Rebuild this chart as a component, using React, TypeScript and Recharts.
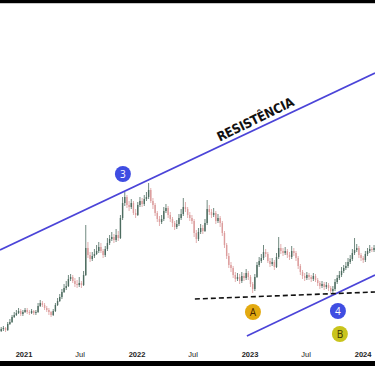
import { ComposedChart, Bar, XAxis, YAxis, ReferenceLine, ReferenceDot } from 'recharts';

// weekly candles, first one is the week of 2020-10-19
const startDate = '2020-10-19';
const firstOpen = 3.0;

const closes = [
  3.2, 3.3, 3.1, 3.7, 3.9, 4.4, 4.6, 4.8, 5.0, 4.7, 4.9, 5.1, 4.9, 4.8, 5.0, 4.8, 4.9, 5.5, 5.8, 5.6,
  5.3, 5.1, 4.9, 4.6, 5.0, 5.6, 6.0, 6.4, 6.9, 7.3, 7.5, 8.2, 8.4, 8.0, 7.7, 7.6, 7.8, 7.6, 8.6, 11.3,
  10.6, 10.2, 10.5, 10.7, 11.0, 11.4, 11.0, 10.6, 11.2, 11.8, 12.2, 12.4, 12.1, 12.6, 12.3, 14.3, 15.8, 16.4, 15.6, 15.4,
  15.8, 14.8, 14.6, 15.6, 16.0, 15.7, 16.2, 16.4, 17.1, 16.0, 15.6, 14.8, 14.2, 13.9, 14.2, 15.0, 15.3, 14.6, 14.2, 13.8,
  13.4, 13.7, 14.3, 14.7, 15.4, 15.2, 14.6, 14.3, 14.0, 12.8, 12.2, 12.9, 13.3, 13.0, 13.8, 15.2, 14.9, 14.6, 14.8, 14.0,
  14.3, 13.8, 12.8, 11.6, 10.5, 9.6, 9.3, 8.6, 8.2, 8.4, 8.0, 8.5, 8.3, 8.8, 8.4, 7.7, 7.2, 8.4, 9.6, 10.0,
  10.3, 10.9, 10.7, 10.0, 9.7, 9.9, 9.4, 10.4, 11.3, 11.0, 10.8, 11.0, 10.6, 10.4, 11.0, 10.8, 10.3, 9.5, 8.9, 8.5,
  8.3, 8.6, 8.4, 8.2, 8.5, 8.1, 7.8, 7.5, 7.7, 7.4, 7.6, 7.3, 7.0, 7.2, 7.9, 8.3, 8.6, 9.0, 9.3, 9.5,
  9.9, 10.2, 10.8, 11.1, 11.3, 10.6, 10.3, 10.1, 10.7, 11.0, 11.2, 11.1, 11.3,
];

const highs = [
  3.4, 3.5, 3.4, 3.9, 4.2, 4.6, 4.9, 5.1, 5.3, 5.2, 5.1, 5.3, 5.3, 5.1, 5.2, 5.1, 5.1, 5.8, 6.1, 6.0,
  5.8, 5.5, 5.3, 5.0, 5.2, 5.8, 6.3, 6.7, 7.2, 7.7, 8.0, 8.6, 8.7, 8.6, 8.3, 8.1, 8.4, 8.0, 9.0, 13.6,
  11.9, 10.9, 10.9, 11.2, 11.6, 11.9, 11.8, 11.2, 11.5, 12.3, 12.6, 12.9, 12.7, 13.2, 13.0, 14.6, 16.4, 16.9, 16.6, 16.0,
  16.2, 16.0, 15.2, 15.9, 16.4, 16.3, 16.6, 16.9, 17.8, 17.3, 16.3, 15.8, 15.0, 14.5, 14.6, 15.4, 15.7, 15.5, 14.9, 14.4,
  14.0, 14.1, 14.7, 15.2, 16.3, 15.9, 15.4, 14.9, 14.6, 14.2, 13.1, 13.3, 13.7, 13.6, 14.2, 16.1, 15.6, 15.2, 15.3, 15.0,
  14.7, 14.5, 14.0, 13.0, 11.8, 10.8, 9.9, 9.5, 8.9, 8.8, 8.7, 8.9, 8.8, 9.2, 9.0, 8.6, 7.9, 8.7, 9.9, 10.4,
  10.7, 11.6, 11.2, 10.9, 10.3, 10.3, 10.1, 10.8, 12.4, 11.7, 11.3, 11.4, 11.2, 10.9, 11.5, 11.3, 11.0, 10.5, 9.7, 9.1,
  8.8, 8.9, 8.8, 8.6, 8.8, 8.7, 8.3, 8.0, 8.0, 7.9, 7.9, 7.8, 7.5, 7.5, 8.2, 8.6, 9.0, 9.4, 9.6, 9.9,
  10.3, 10.6, 11.2, 12.3, 11.7, 11.5, 10.8, 10.5, 11.0, 11.3, 11.6, 11.4, 11.6,
];

const lows = [
  2.9, 3.0, 2.9, 3.0, 3.6, 3.8, 4.3, 4.5, 4.7, 4.5, 4.5, 4.8, 4.7, 4.6, 4.7, 4.6, 4.6, 4.8, 5.4, 5.4,
  5.1, 4.9, 4.6, 4.4, 4.5, 4.9, 5.5, 5.9, 6.2, 6.8, 7.1, 7.4, 8.0, 7.8, 7.4, 7.3, 7.4, 7.3, 7.5, 8.5,
  10.3, 9.9, 10.0, 10.3, 10.6, 10.8, 10.8, 10.3, 10.4, 11.0, 11.6, 12.0, 11.8, 11.9, 12.0, 12.2, 14.1, 15.5, 15.3, 15.0,
  15.2, 14.6, 14.3, 14.5, 15.4, 15.4, 15.5, 16.0, 16.2, 15.8, 15.2, 14.5, 13.9, 13.5, 13.7, 14.0, 14.8, 14.3, 13.9, 13.4,
  13.1, 13.2, 13.5, 14.1, 14.5, 14.9, 14.3, 14.0, 13.7, 12.4, 11.8, 12.0, 12.7, 12.7, 12.9, 13.6, 14.6, 14.3, 14.4, 13.7,
  13.8, 13.4, 12.5, 11.3, 10.2, 9.3, 8.9, 8.3, 7.9, 8.0, 7.7, 7.8, 8.0, 8.1, 8.1, 7.4, 6.8, 7.0, 8.3, 9.4,
  9.8, 10.1, 10.4, 9.8, 9.4, 9.5, 9.1, 9.3, 10.2, 10.7, 10.5, 10.6, 10.3, 10.1, 10.2, 10.5, 10.0, 9.2, 8.6, 8.2,
  8.0, 8.1, 8.1, 7.9, 8.0, 7.9, 7.5, 7.2, 7.3, 7.1, 7.2, 7.0, 6.8, 6.8, 7.0, 7.7, 8.1, 8.4, 8.8, 9.1,
  9.3, 9.7, 10.0, 10.6, 10.9, 10.3, 10.0, 9.8, 9.9, 10.5, 10.8, 10.9, 10.9,
];

const tickDates = ['2021-01-01', '2021-07-01', '2022-01-01', '2022-07-01', '2023-01-01', '2023-07-01', '2024-01-01'];
const tickLabels = ['2021', 'Jul', '2022', 'Jul', '2023', 'Jul', '2024'];

// drawn lines, in (week index, price)
const resistance = [{ x: -0.5, y: 11.1 }, { x: 172.5, y: 28.8 }];
const support = [{ x: 113.4, y: 2.5 }, { x: 172.5, y: 8.6 }];
const floorLine = [{ x: 89.4, y: 6.2 }, { x: 172.5, y: 6.9 }];

const markers = [
  { label: '3', x: 56.2, y: 18.7, kind: 'wave' },
  { label: 'A', x: 116.2, y: 4.9, kind: 'a' },
  { label: '4', x: 155.4, y: 5.0, kind: 'wave' },
  { label: 'B', x: 156.3, y: 2.7, kind: 'b' },
];
const resistanceNote = { text: 'RESISTÊNCIA', x: 118.2, y: 23.75 };

const UP = '#4d6c60';
const DOWN = '#dc9c9c';
const WEEK = 7 * 864e5;

const weekIndex = (d: string) => (Date.parse(d) - Date.parse(startDate)) / WEEK;
const tickValues = tickDates.map(weekIndex);

const data = closes.map((close, i) => ({
  i,
  open: i === 0 ? firstOpen : closes[i - 1],
  close,
  high: highs[i],
  low: lows[i],
  range: [lows[i], highs[i]],
}));

const markerStyle: Record<string, { fill: string; text: string }> = {
  wave: { fill: '#3f4de2', text: '#ffffff' },
  a: { fill: '#e3aa10', text: '#4a2600' },
  b: { fill: '#c9c41c', text: '#3a3300' },
};

const Candle = (props: any) => {
  const { x, y, width, height, payload } = props;
  if (!payload) return null;
  const { open, close, high, low } = payload;
  const top = Math.min(y, y + height);
  const h = Math.abs(height);
  const color = close >= open ? UP : DOWN;
  const span = high - low || 1;
  const py = (v: number) => top + ((high - v) / span) * h;
  const cx = x + width / 2;
  const b1 = py(Math.max(open, close));
  const b2 = py(Math.min(open, close));
  return (
    <g>
      <line x1={cx} x2={cx} y1={top} y2={top + h} stroke={color} strokeWidth={0.8} />
      <rect x={cx - 0.7} y={b1} width={1.4} height={Math.max(b2 - b1, 0.8)} fill={color} />
    </g>
  );
};

const AxisTick = ({ x, y, payload }: any) => {
  let idx = 0;
  tickValues.forEach((t, k) => {
    if (Math.abs(t - payload.value) < Math.abs(tickValues[idx] - payload.value)) idx = k;
  });
  const label = tickLabels[idx];
  return (
    <text
      x={x}
      y={y + 14}
      textAnchor="middle"
      fontSize={7.5}
      fontWeight={label === 'Jul' ? 400 : 700}
      fill="#222"
      fontFamily="'Liberation Sans', Arial, sans-serif"
    >
      {label}
    </text>
  );
};

export default function App() {
  return (
    <div style={{ position: 'absolute', left: 0, top: 0, width: 375, height: 366, background: '#000' }}>
      <div style={{ position: 'absolute', left: 0, top: 3, width: 375, height: 358, background: '#fff', borderTop: '1px solid #c8c8c8', boxSizing: 'border-box' }}>
        <ComposedChart width={375} height={357} data={data} margin={{ top: 0, right: 0, bottom: 0, left: 0 }}>
          <XAxis
            dataKey="i"
            type="number"
            domain={[-0.5, 172.5]}
            ticks={tickValues}
            interval={0}
            tick={<AxisTick />}
            tickLine={false}
            axisLine={false}
            tickSize={0}
            height={20}
            allowDataOverflow
          />
          <YAxis hide domain={[2.0, 35.7]} allowDataOverflow />
          <Bar dataKey="range" shape={<Candle />} isAnimationActive={false} />
          <ReferenceLine segment={resistance} stroke="#4b44d8" strokeWidth={1.6} ifOverflow="visible" />
          <ReferenceLine segment={support} stroke="#4b44d8" strokeWidth={1.6} ifOverflow="visible" />
          <ReferenceLine segment={floorLine} stroke="#111" strokeWidth={1.6} strokeDasharray="5 3" ifOverflow="visible" />
          <ReferenceDot
            x={resistanceNote.x}
            y={resistanceNote.y}
            r={1}
            ifOverflow="visible"
            shape={(p: any) => (
              <text
                x={p.cx}
                y={p.cy}
                textAnchor="middle"
                transform={`rotate(-26 ${p.cx} ${p.cy})`}
                fontSize={13}
                fontWeight={700}
                letterSpacing={-0.2}
                fill="#111"
                fontFamily="'DejaVu Sans Condensed', 'Liberation Sans Narrow', sans-serif"
              >
                {resistanceNote.text}
              </text>
            )}
          />
          {markers.map((m) => (
            <ReferenceDot
              key={m.label}
              x={m.x}
              y={m.y}
              r={8}
              ifOverflow="visible"
              shape={(p: any) => (
                <g>
                  <circle cx={p.cx} cy={p.cy} r={8} fill={markerStyle[m.kind].fill} />
                  <text
                    x={p.cx}
                    y={p.cy + 3.6}
                    textAnchor="middle"
                    fontSize={10}
                    fill={markerStyle[m.kind].text}
                    fontFamily="'Open Sans', Arial, sans-serif"
                  >
                    {m.label}
                  </text>
                </g>
              )}
            />
          ))}
        </ComposedChart>
      </div>
    </div>
  );
}
